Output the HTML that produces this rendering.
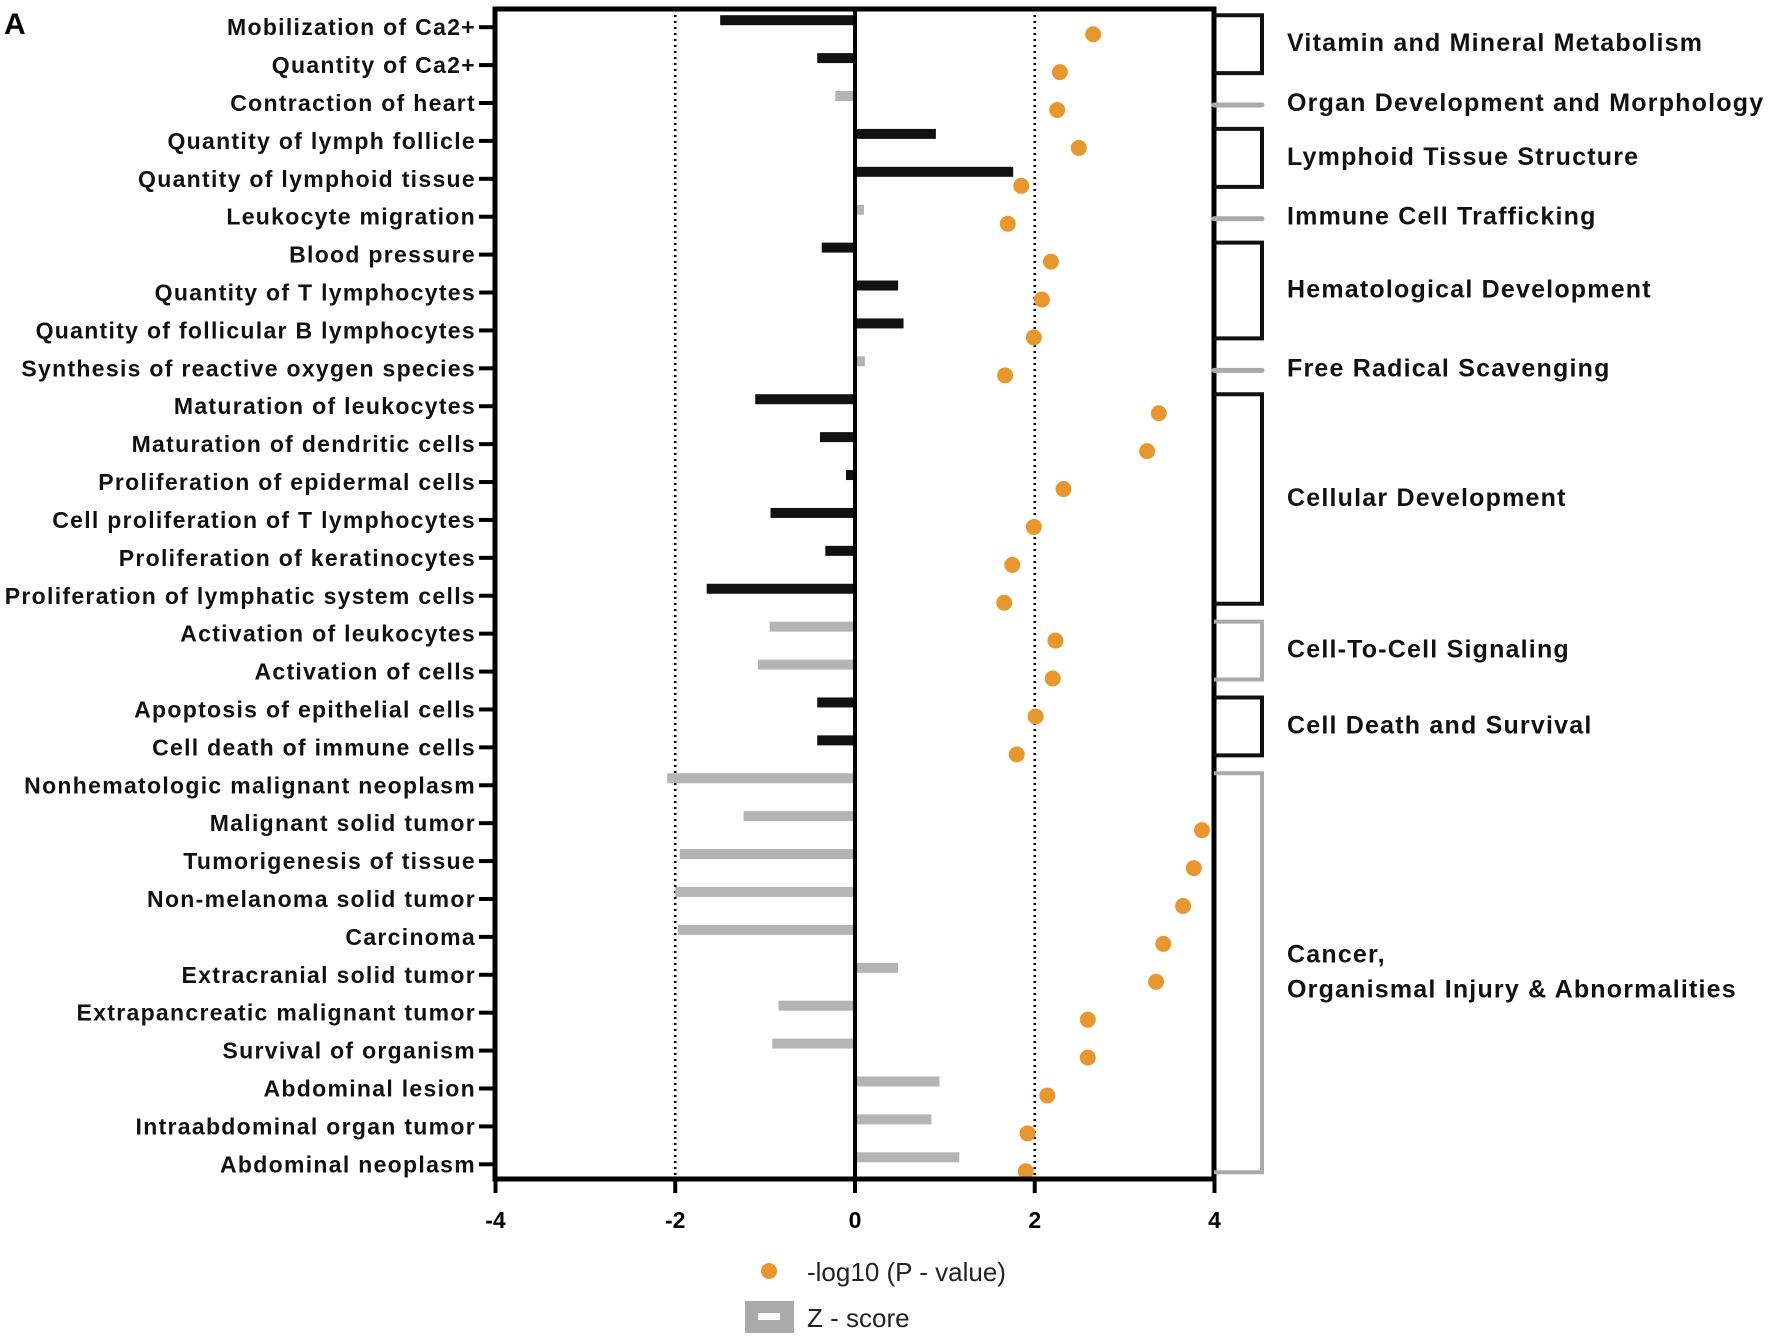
<!DOCTYPE html>
<html><head><meta charset="utf-8"><style>
html,body{margin:0;padding:0;background:#fff;}
svg{display:block;font-family:"Liberation Sans",Arial,sans-serif;}
</style></head><body>
<svg id="chart" width="1772" height="1338" viewBox="0 0 1772 1338">
<text x="4" y="34" font-size="30" font-weight="bold">A</text>
<g id="plot"></g>
</svg>
<script>
const categories = ["Mobilization of Ca2+","Quantity of Ca2+","Contraction of heart","Quantity of lymph follicle","Quantity of lymphoid tissue","Leukocyte migration","Blood pressure","Quantity of T lymphocytes","Quantity of follicular B lymphocytes","Synthesis of reactive oxygen species","Maturation of leukocytes","Maturation of dendritic cells","Proliferation of epidermal cells","Cell proliferation of T lymphocytes","Proliferation of keratinocytes","Proliferation of lymphatic system cells","Activation of leukocytes","Activation of cells","Apoptosis of epithelial cells","Cell death of immune cells","Nonhematologic malignant neoplasm","Malignant solid tumor","Tumorigenesis of tissue","Non-melanoma solid tumor","Carcinoma","Extracranial solid tumor","Extrapancreatic malignant tumor","Survival of organism","Abdominal lesion","Intraabdominal organ tumor","Abdominal neoplasm"];
const zScores = [-1.5,-0.42,-0.22,0.9,1.76,0.1,-0.37,0.48,0.54,0.11,-1.11,-0.39,-0.1,-0.94,-0.33,-1.65,-0.95,-1.08,-0.42,-0.42,-2.09,-1.24,-1.95,-2.0,-1.97,0.48,-0.85,-0.92,0.94,0.85,1.16];
const zPredicted = [1,1,0,1,1,0,1,1,1,0,1,1,1,1,1,1,0,0,1,1,0,0,0,0,0,0,0,0,0,0,0];
const logP = [2.65,2.28,2.25,2.49,1.85,1.70,2.18,2.08,1.99,1.67,3.38,3.25,2.32,1.99,1.75,1.66,2.23,2.20,2.01,1.80,null,3.86,3.77,3.65,3.43,3.35,2.59,2.59,2.14,1.92,1.90];
const xTicks = [-4,-2,0,2,4];
const groupNames = [["Vitamin and Mineral Metabolism"],["Organ Development and Morphology"],["Lymphoid Tissue Structure"],["Immune Cell Trafficking"],["Hematological Development"],["Free Radical Scavenging"],["Cellular Development"],["Cell-To-Cell Signaling"],["Cell Death and Survival"],["Cancer,","Organismal Injury & Abnormalities"]];
const groupStart = [0,2,3,5,6,9,10,16,18,20];
const groupEnd = [1,2,4,5,8,9,15,17,19,30];
const groupDark = [1,0,1,0,1,0,1,0,1,0];

const NS="http://www.w3.org/2000/svg";
const g=document.getElementById('plot');
const L=495,R=1214,T=9,B=1179;
const xs=v=>855+(v)*(R-L)/8;
const y0=27.2, dy=(1164.3-27.2)/(categories.length-1);
const ys=i=>y0+i*dy;
function mk(tag,attrs){const e=document.createElementNS(NS,tag);for(const k in attrs)e.setAttribute(k,attrs[k]);g.appendChild(e);return e;}

[-2,2].forEach(v=>{const e=mk('line',{x1:xs(v),x2:xs(v),y1:T,y2:B,stroke:'#000','stroke-width':2.5,'stroke-dasharray':'2,4'});

});

zScores.forEach((v,i)=>{const x1=Math.min(xs(0),xs(v)),w=Math.abs(xs(v)-xs(0));
const e=mk('rect',{x:x1,y:ys(i)-7-5,width:w,height:10,fill:zPredicted[i]?'#111':'#b4b4b4'});

});

logP.forEach((v,i)=>{if(v==null||v>4.1)return;
const e=mk('circle',{cx:xs(v),cy:ys(i)+7,r:8,fill:'#E8962E'});

});

const fr=mk('path',{d:`M${L} ${T}H${R}V${B}H${L}Z`,fill:'none',stroke:'#000','stroke-width':5});


const za=mk('line',{x1:xs(0),x2:xs(0),y1:T,y2:B,stroke:'#000','stroke-width':4});



xTicks.forEach(v=>{const t=mk('line',{x1:xs(v),x2:xs(v),y1:B,y2:B+14,stroke:'#000','stroke-width':4});


const l=mk('text',{x:xs(v),y:1228,'text-anchor':'middle','font-size':23,'font-weight':'bold'});
l.textContent=String(v);

});

categories.forEach((c,i)=>{const t=mk('line',{x1:L-16,x2:L,y1:ys(i),y2:ys(i),stroke:'#000','stroke-width':4});


const l=mk('text',{x:L-19,y:ys(i)+8,'text-anchor':'end','font-size':23,'font-weight':'bold','letter-spacing':1.3,fill:'#111'});
l.textContent=c;

});

groupNames.forEach((n,k)=>{const a=ys(groupStart[k]),b=ys(groupEnd[k]);const col=groupDark[k]?'#111':'#aaa';
const single=groupStart[k]===groupEnd[k]&&!groupDark[k];
let e;
if(single){e=mk('line',{x1:R,x2:R+48,y1:a+2,y2:a+2,stroke:col,'stroke-width':5,'stroke-linecap':'round'});}
else{e=mk('path',{d:`M${R} ${a-12}H${R+48}V${b+8}H${R}`,fill:'none',stroke:col,'stroke-width':4});}


const mid=(a+b)/2-(single?0:3);
n.forEach((s,j)=>{const l=mk('text',{x:1287,y:mid+8+(j-(n.length-1)/2)*35,'font-size':25,'font-weight':'bold','letter-spacing':1.2,fill:'#111'});
l.textContent=s;

});});

const ld=mk('circle',{cx:769,cy:1271,r:8,fill:'#E8962E'});


const lt=mk('text',{x:807,y:1281,'font-size':26,fill:'#222'});lt.textContent='-log10 (P - value)';


const lb=mk('rect',{x:745,y:1301,width:49,height:32,fill:'#aaa'});


const lw=mk('rect',{x:758,y:1313,width:22,height:7,fill:'#fff'});


const lt2=mk('text',{x:807,y:1327,'font-size':26,fill:'#222'});lt2.textContent='Z - score';


</script>
</body></html>
